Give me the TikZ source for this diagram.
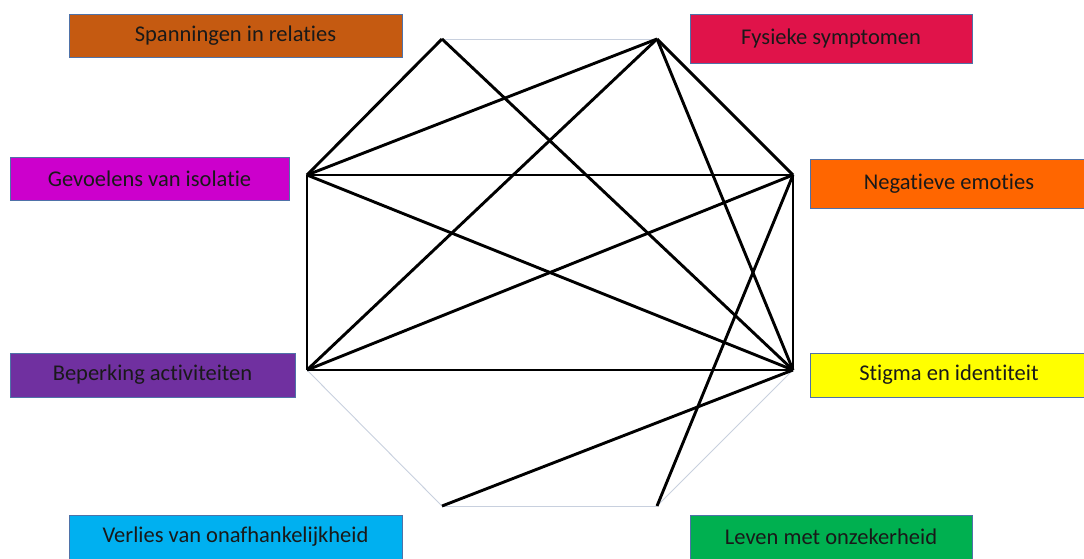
\documentclass[tikz,border=0pt]{standalone}
\usepackage{fontspec}
\setmainfont{Carlito}[Ligatures=NoCommon]
\definecolor{boxline}{HTML}{4F72A8}
\definecolor{rimgray}{HTML}{C8D0DE}
\definecolor{spancol}{HTML}{C55A11}
\definecolor{fysiekcol}{HTML}{E0134A}
\definecolor{isolcol}{HTML}{CC00CC}
\definecolor{negcol}{HTML}{FF6600}
\definecolor{beperkcol}{HTML}{7030A0}
\definecolor{stigmacol}{HTML}{FFFF00}
\definecolor{verliescol}{HTML}{00B0F0}
\definecolor{levencol}{HTML}{00B050}
\begin{document}
\begin{tikzpicture}[x=1pt,y=-1pt,
    labelbox/.style={draw=boxline,line width=0.8pt,inner sep=0pt,
      font=\fontsize{22.5}{26}\selectfont,text=black!90},
    link/.style={line width=2.9pt,black},
    rim/.style={line width=0.9pt,rimgray}]
  \useasboundingbox (0,0) rectangle (1084,558);
  % corners of the octagon
  \coordinate (sp) at (442,39);
  \coordinate (fy) at (657,39);
  \coordinate (ne) at (793,175);
  \coordinate (st) at (793,370);
  \coordinate (le) at (657,506);
  \coordinate (ve) at (442,506);
  \coordinate (be) at (307,370);
  \coordinate (is) at (307,175);
  \foreach \a/\b in {sp/fy,be/ve,ve/le,le/st}
    \draw[rim] (\a)--(\b);
  \foreach \a/\b in {sp/is,sp/st,fy/is,fy/be,fy/ne,fy/st,is/ne,is/be,is/st,
                     ne/be,ne/st,ne/le,be/st,ve/st}
    \draw[link] (\a)--(\b);
  % labels
  \node[labelbox,fill=spancol,minimum width=333pt,minimum height=43pt] (spanbox) at (235.5,35.5) {Spanningen in relaties};
  \node[labelbox,fill=fysiekcol,minimum width=282pt,minimum height=49pt] (fysbox) at (831,38.5) {Fysieke symptomen};
  \node[labelbox,fill=isolcol,minimum width=279pt,minimum height=43pt] (isobox) at (149.5,178.5) {Gevoelens van isolatie};
  \node[labelbox,fill=negcol,minimum width=278pt,minimum height=49pt] (negbox) at (949,183.5) {Negatieve emoties};
  \node[labelbox,fill=beperkcol,minimum width=285pt,minimum height=44pt] (bepbox) at (152.5,375) {Beperking activiteiten};
  \node[labelbox,fill=stigmacol,minimum width=278pt,minimum height=44pt] (stigbox) at (949,375) {Stigma en identiteit};
  \node[labelbox,fill=verliescol,minimum width=333pt,minimum height=44pt] (verbox) at (235.5,537) {Verlies van onafhankelijkheid};
  \node[labelbox,fill=levencol,minimum width=282pt,minimum height=44pt] (levbox) at (831,537) {Leven met onzekerheid};
\end{tikzpicture}
\end{document}
